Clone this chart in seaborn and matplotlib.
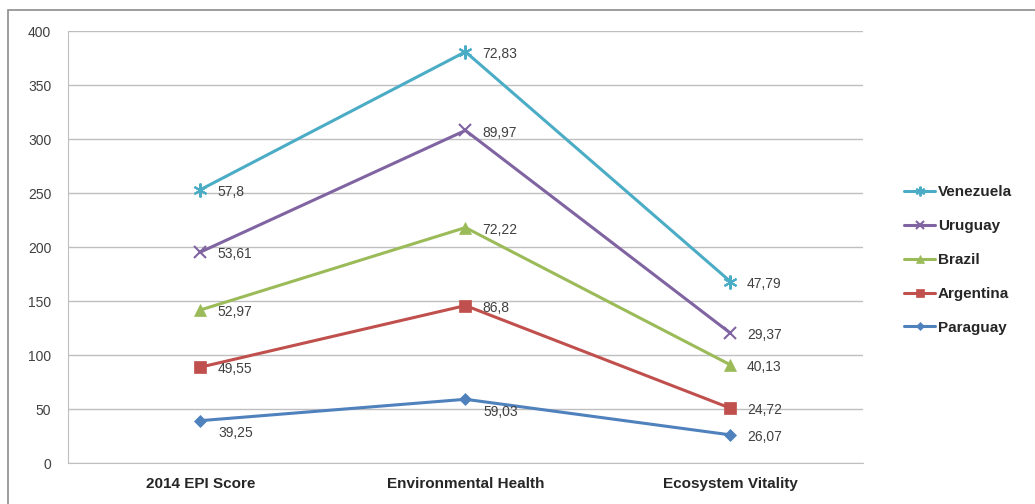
import pandas as pd
import seaborn as sns
import matplotlib.pyplot as plt
from matplotlib.patches import Rectangle

# Categories and series values (stacked line chart)
categories = ["2014 EPI Score", "Environmental Health", "Ecosystem Vitality"]
paraguay = [39.25, 59.03, 26.07]
argentina = [49.55, 86.8, 24.72]
brazil = [52.97, 72.22, 40.13]
uruguay = [53.61, 89.97, 29.37]
venezuela = [57.8, 72.83, 47.79]

countries = ["Paraguay", "Argentina", "Brazil", "Uruguay", "Venezuela"]
series = [paraguay, argentina, brazil, uruguay, venezuela]
colors = ["#4F81BD", "#C0504D", "#9BBB59", "#8064A2", "#4BACC6"]
markers = ["D", "s", "^", "x", (6, 2, 0)]
msizes = [6, 8, 8, 9, 10]

# Build long table with cumulative (stacked) values
rows = []
for country, vals in zip(countries, series):
    for cat, v in zip(categories, vals):
        rows.append({"country": country, "category": cat, "value": v})
df = pd.DataFrame(rows)
df["stacked"] = df.groupby("category", sort=False)["value"].cumsum()

sns.set_style("white")
plt.rcParams['font.family'] = ['Liberation Sans', 'DejaVu Sans']

fig = plt.figure(figsize=(10.35, 5.04), dpi=100)
ax = fig.add_axes([0.0657, 0.0813, 0.768, 0.857])

for country, color, m, ms in zip(countries, colors, markers, msizes):
    sub = df[df["country"] == country]
    sns.lineplot(data=sub, x="category", y="stacked", ax=ax, color=color,
                 marker=m, markersize=ms, linewidth=2.2, label=country,
                 markeredgecolor=color, markeredgewidth=1.5 if m in ("x", (6, 2, 0)) else 0.5)
    for i, (_, r) in enumerate(sub.iterrows()):
        # Paraguay's first two labels sit below-right of the point
        off = (13, -9) if (country == "Paraguay" and i < 2) else (12, -1.5)
        ax.annotate(f"{r['value']:g}".replace(".", ","), (i, r["stacked"]),
                    xytext=off, textcoords="offset points",
                    fontsize=10, color="#404040", va="center", ha="left")

ax.set_xlim(-0.5, 2.5)
ax.set_ylim(0, 400)
ax.set_yticks(range(0, 401, 50))
ax.yaxis.grid(True, color="#BFBFBF", linewidth=1)
ax.set_axisbelow(True)
for s in ["top", "right"]:
    ax.spines[s].set_visible(False)
ax.spines["left"].set_color("#BFBFBF")
ax.spines["bottom"].set_color("#BFBFBF")
ax.tick_params(axis="y", labelsize=10, labelcolor="#404040", length=0, pad=12)
ax.tick_params(axis="x", labelsize=11, length=0, pad=10)
for lbl in ax.get_xticklabels():
    lbl.set_fontweight("bold")
    lbl.set_color("#262626")
ax.set_xlabel("")
ax.set_ylabel("")

handles, labels = ax.get_legend_handles_labels()
leg = ax.legend(handles[::-1], labels[::-1], loc="center left",
                bbox_to_anchor=(1.035, 0.47), frameon=False, fontsize=11,
                handlelength=2.0, handletextpad=0.2, labelspacing=1.3,
                markerscale=0.7)
for t in leg.get_texts():
    t.set_fontweight("bold")
    t.set_color("#262626")

fig.patches.append(Rectangle((0.008, -0.01), 0.995, 0.99, transform=fig.transFigure,
                             fill=False, edgecolor="#8C8C8C", linewidth=1.2))

fig.savefig("out.png", dpi=100)
